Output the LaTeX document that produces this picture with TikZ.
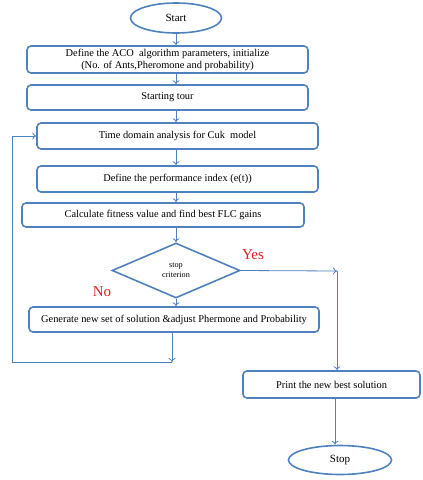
\documentclass[tikz,border=0pt]{standalone}
\usepackage{fontspec}
\setmainfont{Liberation Serif}
\usetikzlibrary{shapes.geometric,arrows.meta}
\definecolor{ob}{RGB}{79,129,189}
\definecolor{yn}{RGB}{230,30,30}
\tikzset{
  procbox/.style={draw=ob,line width=1.6pt,rounded corners=4pt,inner sep=0pt,align=center,font=\fontsize{10.4}{12}\selectfont},
  term/.style={draw=ob,line width=1.6pt,ellipse,inner sep=0pt,font=\fontsize{11}{13}\selectfont},
  dec/.style={draw=ob,line width=1.6pt,diamond,inner sep=0pt,align=center,font=\fontsize{8.2}{10}\selectfont},
  arr/.style={draw=ob,line width=0.8pt,-{To[length=4pt,width=7pt]}},
  ynlab/.style={text=yn,font=\fontsize{15}{17}\selectfont}
}
\begin{document}
\begin{tikzpicture}[x=1pt,y=-1pt]
\useasboundingbox (0,0) rectangle (423,480);
\node[term,minimum width=91pt,minimum height=30pt] (start) at (176,18) {Start};
\node[procbox,minimum width=281pt,minimum height=27pt] (b1) at (167.5,59.5) {Define the ACO\ \ algorithm parameters, initialize\\(No. of Ants,Pheromone and probability)};
\node[procbox,minimum width=281pt,minimum height=25pt] (b2) at (167.5,97.5) {Starting tour};
\node[procbox,minimum width=281pt,minimum height=26pt] (b3) at (177.5,136) {Time domain analysis\ for Cuk\ \ model};
\node[procbox,minimum width=281pt,minimum height=26pt] (b4) at (177.5,179) {Define the performance index (e(t))};
\node[procbox,minimum width=282pt,minimum height=24pt] (b5) at (163,215) {Calculate fitness value and find best FLC gains\rule[-3pt]{0pt}{0pt}};
\node[dec,minimum width=128pt,minimum height=55pt] (d) at (176,270.5) {stop\\criterion};
\node[procbox,minimum width=290pt,minimum height=25pt] (b6) at (174,319.5) {Generate new set of solution \&adjust Phermone and Probability};
\node[procbox,minimum width=177pt,minimum height=27pt] (b7) at (331.5,384.5) {Print the new best solution};
\node[term,minimum width=103pt,minimum height=29pt] (stop) at (340,460) {Stop};
\node[ynlab] (yes) at (253,255) {Yes};
\node[ynlab] (no) at (102,292) {No};
\coordinate (c1) at (172,362);
\coordinate (c2) at (12,362);
\coordinate (c3) at (337,271);
\draw[arr] (start.south) -- (b1.north -| start.south);
\draw[arr] (b1.south -| start.south) -- (b2.north -| start.south);
\draw[arr] (b2.south -| start.south) -- (b3.north -| start.south);
\draw[arr] (b3.south -| start.south) -- (b4.north -| start.south);
\draw[arr] (b4.south -| start.south) -- (b5.north -| start.south);
\draw[arr] (b5.south -| d.north) -- (d.north);
\draw[arr] (d.south) -- (b6.north -| d.south);
\draw[arr] (b6.south -| c1) -- (c1);
\draw[arr] (c1) -- (c2) |- (b3.west);
\draw[arr] (d.east) -- (c3);
\draw[arr] (c3) -- (b7.north -| c3);
\draw[arr] (b7.south -| 335,0) -- (stop.north -| 335,0);
\end{tikzpicture}
\end{document}
